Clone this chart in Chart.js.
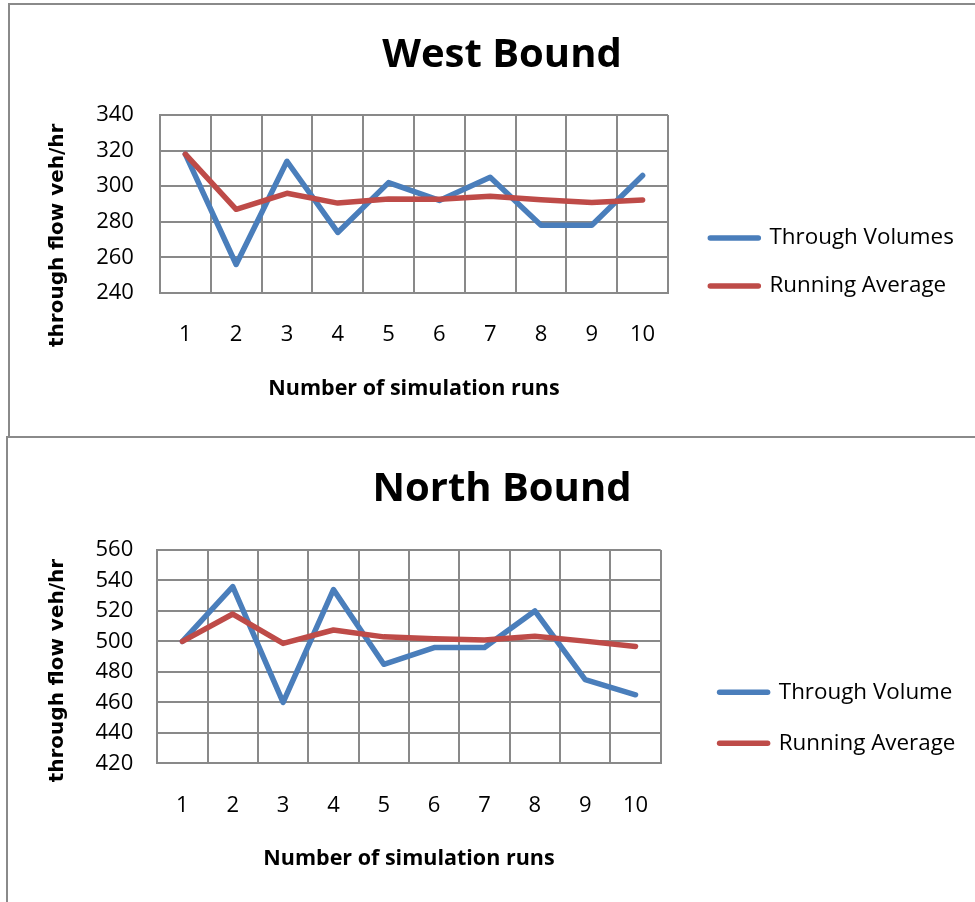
<!DOCTYPE html>
<html>
<head>
<meta charset="utf-8">
<script src="https://cdn.jsdelivr.net/npm/chart.js@4.4.1/dist/chart.umd.min.js"></script>
<style>
  html, body { margin: 0; padding: 0; background: #fff; width: 975px; height: 902px; overflow: hidden; position: relative; }
  .panel { position: absolute; box-sizing: border-box; border: 2px solid #8a8a8a; border-right: none; }
  #westPanel { left: 8px; top: 3px; width: 1000px; height: 435px; }
  #northPanel { left: 6px; top: 436px; width: 1000px; height: 500px; border-bottom: none; }
  canvas { position: absolute; }
  #westChart { left: -110px; top: 5px; }
  #northChart { left: -112px; top: 438px; }
</style>
</head>
<body>
<div class="panel" id="westPanel"></div>
<div class="panel" id="northPanel"></div>
<canvas id="westChart" width="1224" height="431"></canvas>
<canvas id="northChart" width="1228" height="464"></canvas>
<script>
// Simulation run numbers shared by both approaches
const runs = ['1', '2', '3', '4', '5', '6', '7', '8', '9', '10'];

// West bound: through flow per run and its running average (veh/hr)
const westThroughVolumes = [318, 256, 314, 274, 302, 292, 305, 278, 278, 306];
const westRunningAverage = [318, 287, 296, 290.5, 292.8, 292.7, 294.4, 292.4, 290.8, 292.3];
const westYTicks = [240, 260, 280, 300, 320, 340];

// North bound: through flow per run and its running average (veh/hr)
const northThroughVolume = [500, 536, 460, 534, 485, 496, 496, 520, 475, 465];
const northRunningAverage = [500, 518, 498.7, 507.5, 503, 501.8, 501, 503.4, 500.2, 496.7];
const northYTicks = [420, 440, 460, 480, 500, 520, 540, 560];

const BLUE = '#4A7EBB';
const RED = '#BE4B48';
const GRID = '#898989';
const LINE_WIDTH = 5.5;

Chart.defaults.font.family = "'Open Sans', sans-serif";

function buildChart(canvasId, s) {
  const canvas = document.getElementById(canvasId);
  const yMin = s.yTicks[0];
  const yMax = s.yTicks[s.yTicks.length - 1];
  const yStep = s.yTicks[1] - s.yTicks[0];
  return new Chart(canvas, {
    type: 'line',
    data: {
      labels: runs,
      datasets: [
        { label: s.names[0], data: s.volumes, borderColor: BLUE, backgroundColor: BLUE, order: 1, yAxisID: 'y' },
        { label: s.names[1], data: s.average, borderColor: RED, backgroundColor: RED, order: 0, yAxisID: 'y' }
      ]
    },
    options: {
      responsive: false,
      animation: false,
      events: [],
      devicePixelRatio: 1,
      elements: {
        line: { borderWidth: LINE_WIDTH, tension: 0, borderJoinStyle: 'round', borderCapStyle: 'round', fill: false },
        point: { radius: 0, hoverRadius: 0 }
      },
      scales: {
        x: {
          offset: true,
          grid: { offset: true, color: GRID, lineWidth: 2, drawTicks: false },
          border: { color: GRID, width: 2 },
          ticks: { color: '#000', font: { size: 22 }, padding: s.xTickPad, maxRotation: 0, autoSkip: false },
          title: {
            display: true, text: 'Number of simulation runs', color: '#000',
            font: { size: 21.5, weight: 'bold', lineHeight: 1.1 },
            padding: { top: 0, bottom: s.xTitleBottom }
          }
        },
        y: {
          min: yMin, max: yMax,
          grid: { color: GRID, lineWidth: 2, drawTicks: false },
          border: { color: GRID, width: 2 },
          ticks: { stepSize: yStep, color: '#000', font: { size: 22 }, padding: s.yTickPad },
          title: {
            display: true,
            // trailing spaces nudge the centred title towards the bottom of the axis
            text: 'through flow veh/hr' + ' '.repeat(s.yTitleShift),
            color: '#000',
            font: { family: "'DejaVu Sans', sans-serif", size: 20, weight: 'bold' },
            padding: { top: s.yTitleTop, bottom: s.yTitleBottom }
          }
        },
        // empty spacers on either side of the legend column
        gapBefore: { type: 'linear', position: 'right', display: false, afterFit: sc => { sc.width = s.gapBefore; } },
        gapAfter: {
          type: 'linear', position: 'right', display: false, weight: 2000,
          afterFit: sc => { sc.width = Math.max(0, canvas.width - s.plotRight - s.gapBefore - sc.chart.legend.width); }
        }
      },
      plugins: {
        title: {
          display: true, text: s.title, color: '#000',
          font: { size: 40, weight: 'bold' },
          padding: { top: s.titleTop, bottom: s.titleBottom }
        },
        legend: {
          position: 'right',
          align: 'center',
          title: { display: true, text: '', font: { size: 12 }, padding: { top: s.legendDrop, bottom: 0 } },
          labels: {
            usePointStyle: true,
            pointStyle: 'line',
            pointStyleWidth: 48,
            color: '#000',
            font: { size: 22.4 },
            padding: s.legendGap,
            sort: (a, b) => a.datasetIndex - b.datasetIndex,
            generateLabels: chart => Chart.defaults.plugins.legend.labels.generateLabels(chart)
              .map(item => Object.assign(item, { lineCap: 'round', lineWidth: LINE_WIDTH }))
          }
        },
        tooltip: { enabled: false }
      }
    }
  });
}

buildChart('westChart', {
  title: 'West Bound',
  names: ['Through Volumes', 'Running Average'],
  volumes: westThroughVolumes,
  average: westRunningAverage,
  yTicks: westYTicks,
  titleTop: 27, titleBottom: 35,
  xTickPad: 28.6, xTitleBottom: 35.8,
  yTickPad: 26, yTitleTop: 155.6, yTitleBottom: 0.6, yTitleShift: 9,
  legendDrop: 68.8, legendGap: 25.6,
  plotRight: 778, gapBefore: 16.7
});

buildChart('northChart', {
  title: 'North Bound',
  names: ['Through Volume', 'Running Average'],
  volumes: northThroughVolume,
  average: northRunningAverage,
  yTicks: northYTicks,
  titleTop: 28, titleBottom: 36,
  xTickPad: 28.8, xTitleBottom: 31,
  yTickPad: 24, yTitleTop: 157.3, yTitleBottom: 2.2, yTitleShift: 4,
  legendDrop: 81.2, legendGap: 28.6,
  plotRight: 772.7, gapBefore: 30.3
});
</script>
</body>
</html>
